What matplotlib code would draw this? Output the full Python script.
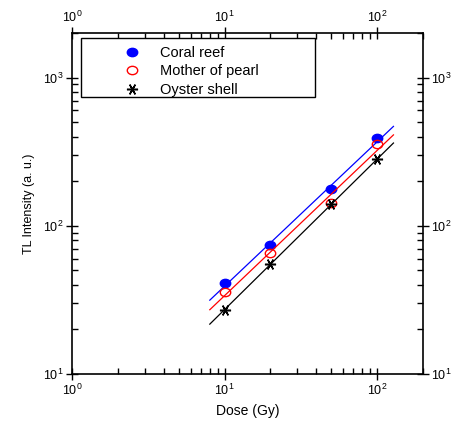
import numpy as np
import matplotlib
matplotlib.use("Agg")
import matplotlib.pyplot as plt
from matplotlib.ticker import LogLocator, NullFormatter
from matplotlib.path import Path
from matplotlib.transforms import Affine2D
from matplotlib.patches import Rectangle

plt.rcParams['font.family'] = ['Liberation Sans', 'DejaVu Sans']
plt.rcParams['mathtext.fontset'] = 'custom'
plt.rcParams['mathtext.rm'] = 'Liberation Sans'
plt.rcParams['mathtext.it'] = 'Liberation Sans'

dose = [10, 20, 50, 100]
coral_reef = [41, 74, 176, 390]
mother_of_pearl = [35.6, 65.5, 143, 356]
oyster_shell = [27.2, 55, 140, 281]
series_names = ["Coral reef", "Mother of pearl", "Oyster shell"]

fig = plt.figure(figsize=(4.59, 4.21), dpi=100)
ax = fig.add_axes([0.157, 0.1116, 0.7646, 0.81])

ellipse = Path(Affine2D().scale(1.25, 1.0).transform(Path.unit_circle().vertices),
               Path.unit_circle().codes)

fit_x = np.array([8, 128])
styles = [
    dict(color='blue', marker=ellipse, mfc='blue', mec='blue', ms=7.5),
    dict(color='red', marker=ellipse, mfc='none', mec='red', ms=7.5, mew=1.0),
    dict(color='black', marker=(6, 2, 90), mfc='none', mec='black', ms=8, mew=1.1),
]
for vals, name, st in zip([coral_reef, mother_of_pearl, oyster_shell], series_names, styles):
    b, a = np.polyfit(np.log10(dose), np.log10(vals), 1)
    ax.plot(fit_x, 10 ** (a + b * np.log10(fit_x)), color=st['color'], lw=0.9)
    ax.plot(dose, vals, linestyle='none', marker=st['marker'], mfc=st['mfc'],
            mec=st['mec'], ms=st['ms'], mew=st.get('mew', 1.0), label=name)

ax.set_xscale('log')
ax.set_yscale('log')
ax.set_xlim(1, 200)
ax.set_ylim(10, 2000)

for axis in (ax.xaxis, ax.yaxis):
    axis.set_major_locator(LogLocator(base=10, numticks=10))
    axis.set_minor_locator(LogLocator(base=10, subs=np.arange(2, 10), numticks=20))
    axis.set_minor_formatter(NullFormatter())

ax.tick_params(which='major', direction='inout', length=8, width=1,
               top=True, right=True, labeltop=True, labelright=True, labelsize=9, pad=2)
ax.tick_params(which='minor', direction='in', length=4, width=1,
               top=True, right=True)
for s in ax.spines.values():
    s.set_linewidth(1.2)

ax.set_xlabel("Dose (Gy)", fontsize=10, labelpad=5)
ax.set_ylabel("TL Intensity (a. u.)", fontsize=9, labelpad=6)

# legend frame
ax.add_patch(Rectangle((0.0256, 0.812), 0.666, 0.173, transform=ax.transAxes,
                       fill=True, facecolor='white', edgecolor='black', lw=1.0, zorder=4))
leg = ax.legend(loc='upper left', bbox_to_anchor=(0.130, 0.962), fontsize=10.5,
                frameon=False, borderpad=0, labelspacing=0.3, handletextpad=0.9,
                borderaxespad=0, handlelength=2.0)
leg.set_zorder(5)

fig.savefig("out.png", dpi=100)
